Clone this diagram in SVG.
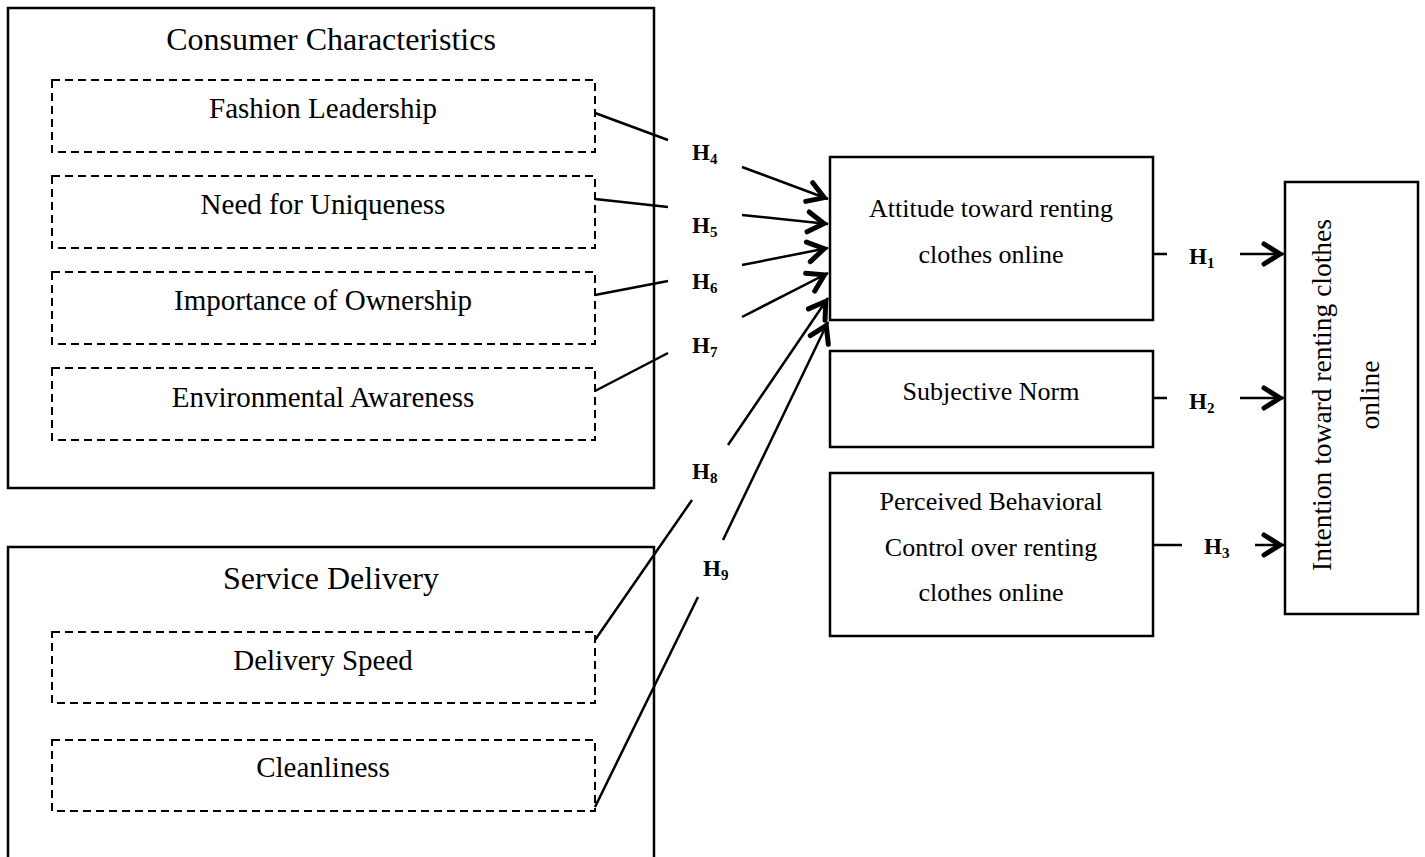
<svg xmlns="http://www.w3.org/2000/svg" width="1425" height="857" viewBox="0 0 1425 857">
<style>
.box{fill:#fff;stroke:#000;stroke-width:2.5}
.dash{fill:none;stroke:#000;stroke-width:2;stroke-dasharray:8 5}
.hdr{font-family:"Liberation Serif","Times New Roman",serif;font-size:32px;text-anchor:middle;fill:#000}
.lbl{font-family:"Liberation Serif","Times New Roman",serif;font-size:29px;text-anchor:middle;fill:#000}
.txt{font-family:"Liberation Serif","Times New Roman",serif;font-size:26px;text-anchor:middle;fill:#000}
.rot{font-size:27.5px}
.h{font-family:"Liberation Serif","Times New Roman",serif;font-size:23px;font-weight:bold;fill:#000}
.sub{font-size:15px}
.ln{fill:none;stroke:#000;stroke-width:2.5}
.arr{fill:none;stroke:#000;stroke-width:2.5;marker-end:url(#ah)}
</style>
<defs>
<marker id="ah" markerUnits="userSpaceOnUse" markerWidth="30" markerHeight="30" refX="25" refY="15" orient="auto">
<path d="M5,5 L21,15 L5,25" fill="none" stroke="#000" stroke-width="5" stroke-linecap="round"/>
</marker>
</defs>
<rect width="1425" height="857" fill="#fff"/>

<g id="consumer-characteristics">
<rect class="box" x="8" y="8" width="646" height="480"/>
<text class="hdr" x="331" y="50">Consumer Characteristics</text>
</g>
<g id="fashion-leadership">
<rect class="dash" x="52" y="80" width="543" height="72"/>
<text class="lbl" x="323" y="118">Fashion Leadership</text>
</g>
<g id="need-for-uniqueness">
<rect class="dash" x="52" y="176" width="543" height="72"/>
<text class="lbl" x="323" y="214">Need for Uniqueness</text>
</g>
<g id="importance-of-ownership">
<rect class="dash" x="52" y="272" width="543" height="72"/>
<text class="lbl" x="323" y="310">Importance of Ownership</text>
</g>
<g id="environmental-awareness">
<rect class="dash" x="52" y="368" width="543" height="72"/>
<text class="lbl" x="323" y="407">Environmental Awareness</text>
</g>

<g id="service-delivery">
<path class="box" d="M8,870 L8,547 L654,547 L654,870"/>
<text class="hdr" x="331" y="589">Service Delivery</text>
</g>
<g id="delivery-speed">
<rect class="dash" x="52" y="632" width="543" height="71"/>
<text class="lbl" x="323" y="670">Delivery Speed</text>
</g>
<g id="cleanliness">
<rect class="dash" x="52" y="740" width="543" height="71"/>
<text class="lbl" x="323" y="777">Cleanliness</text>
</g>

<g id="attitude">
<rect class="box" x="830" y="157" width="323" height="163"/>
<text class="txt" x="991" y="217">Attitude toward renting</text>
<text class="txt" x="991" y="263">clothes online</text>
</g>
<g id="subjective-norm">
<rect class="box" x="830" y="351" width="323" height="96"/>
<text class="txt" x="991" y="400">Subjective Norm</text>
</g>
<g id="perceived-behavioral-control">
<rect class="box" x="830" y="473" width="323" height="163"/>
<text class="txt" x="991" y="510">Perceived Behavioral</text>
<text class="txt" x="991" y="556">Control over renting</text>
<text class="txt" x="991" y="601">clothes online</text>
</g>
<g id="intention">
<rect class="box" x="1285" y="182" width="133" height="432"/>
<text class="txt rot" transform="translate(1331,395) rotate(-90)">Intention toward renting clothes</text>
<text class="txt rot" transform="translate(1379,395) rotate(-90)">online</text>
</g>

<g id="connectors">
<path class="ln" d="M595,113 L668,140"/>
<path class="arr" d="M742,167 L828,199"/>
<path class="ln" d="M595,199 L668,207"/>
<path class="arr" d="M742,215 L828,224"/>
<path class="ln" d="M595,295 L668,281"/>
<path class="arr" d="M742,265 L828,248"/>
<path class="ln" d="M595,391 L668,353"/>
<path class="arr" d="M742,317 L828,273"/>
<path class="ln" d="M595,640 L692,500"/>
<path class="arr" d="M728,445 L828,298"/>
<path class="ln" d="M595,807 L698,597"/>
<path class="arr" d="M723,540 L828,322"/>
<path class="ln" d="M1153,254 L1167,254"/>
<path class="arr" d="M1240,254 L1284,254"/>
<path class="ln" d="M1153,398 L1167,398"/>
<path class="arr" d="M1240,398 L1284,398"/>
<path class="ln" d="M1153,545 L1182,545"/>
<path class="arr" d="M1255,545 L1284,545"/>
<text class="h" x="692" y="160">H<tspan class="sub" dy="4">4</tspan></text>
<text class="h" x="692" y="233">H<tspan class="sub" dy="4">5</tspan></text>
<text class="h" x="692" y="289">H<tspan class="sub" dy="4">6</tspan></text>
<text class="h" x="692" y="353">H<tspan class="sub" dy="4">7</tspan></text>
<text class="h" x="692" y="479">H<tspan class="sub" dy="4">8</tspan></text>
<text class="h" x="703" y="576">H<tspan class="sub" dy="4">9</tspan></text>
<text class="h" x="1189" y="264">H<tspan class="sub" dy="4">1</tspan></text>
<text class="h" x="1189" y="409">H<tspan class="sub" dy="4">2</tspan></text>
<text class="h" x="1204" y="554">H<tspan class="sub" dy="4">3</tspan></text>
</g>
</svg>
